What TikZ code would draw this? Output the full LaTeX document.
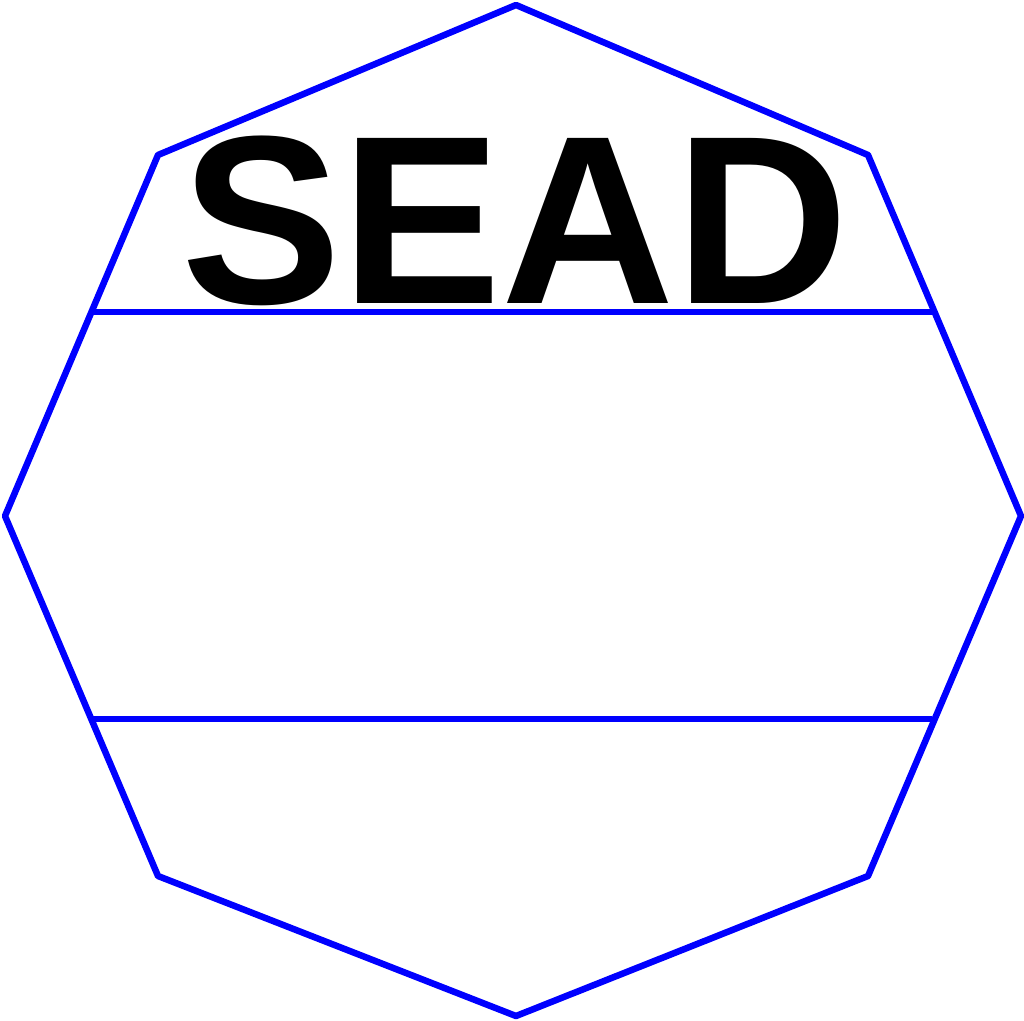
\documentclass[tikz,border=0pt]{standalone}
\usepackage{fontspec}
\setmainfont{Liberation Sans}
\begin{document}
\begin{tikzpicture}[x=1pt,y=-1pt,
  edge/.style={draw=blue,line width=6.5pt,line join=bevel},
  bar/.style={draw=blue,line width=6pt},
  label/.style={inner sep=0pt,anchor=base,font=\fontsize{240}{240}\selectfont\bfseries}]
\useasboundingbox (0,0) rectangle (1024,1020);
\coordinate (v1) at (516,5);
\coordinate (v2) at (868,155);
\coordinate (v3) at (1021,516);
\coordinate (v4) at (868,876);
\coordinate (v5) at (516,1016);
\coordinate (v6) at (158,876);
\coordinate (v7) at (5,516);
\coordinate (v8) at (158,155);
\draw[edge] (v1) -- (v2) -- (v3) -- (v4) -- (v5) -- (v6) -- (v7) -- (v8) -- cycle;
\coordinate (a1) at (92,312);
\coordinate (a2) at (932,312);
\coordinate (b1) at (92,719);
\coordinate (b2) at (932,719);
\draw[bar] (a1) -- (a2);
\draw[bar] (b1) -- (b2);
\node[label] (t) at (515,303) {SEAD};
\end{tikzpicture}
\end{document}
